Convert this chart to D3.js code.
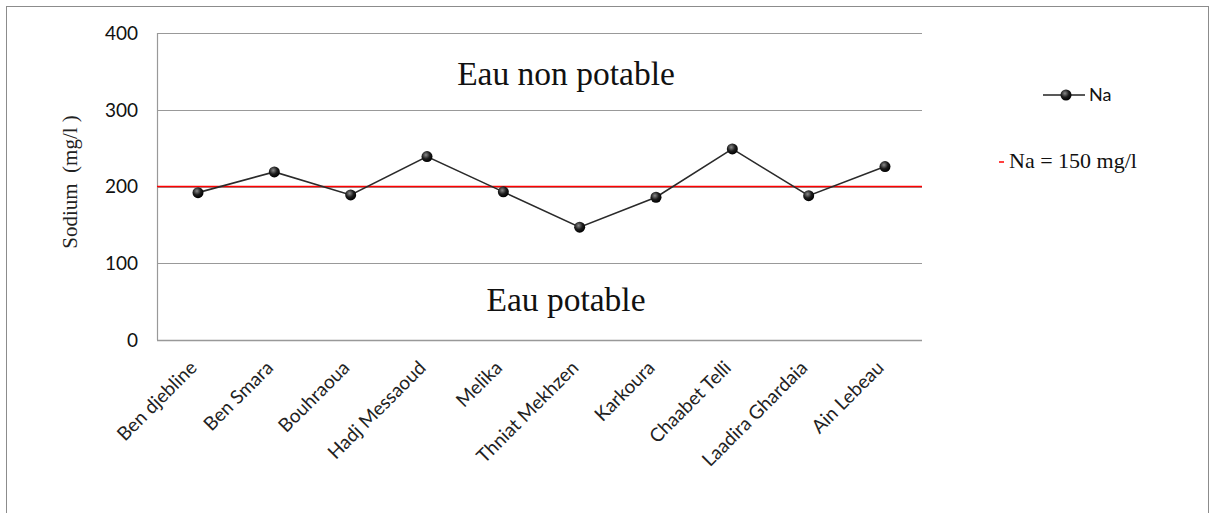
<!DOCTYPE html>
<html lang="fr">
  <head>
    <meta charset="UTF-8" />
    <title>Sodium</title>
    <script src="https://d3js.org/d3.v7.min.js"></script>
    <style>
      body { margin: 0; background: #fff; }
      .chart { width: 1211px; height: 513px; }
    </style>
  </head>
  <body>
    <div class="chart"></div>
  </body>

  <script>
    // data
    var sites = ["Ben djebline", "Ben Smara", "Bouhraoua", "Hadj Messaoud", "Melika",
      "Thniat Mekhzen", "Karkoura", "Chaabet Telli", "Laadira Ghardaia", "Ain Lebeau"];
    var sodium = [192, 219, 189, 239, 193, 147, 186, 249, 188, 226];
    var yTicks = [0, 100, 200, 300, 400];
    var limitValue = 200;

    var width = 1211, height = 513;
    var plot = { left: 157, right: 922, top: 33, bottom: 340 };

    var svg = d3.select(".chart").append("svg")
      .attr("width", width)
      .attr("height", height);

    // outer frame
    svg.append("rect")
      .attr("x", 6.5).attr("y", 6.5)
      .attr("width", 1202).attr("height", 520)
      .attr("fill", "none")
      .attr("stroke", "#8c8c8c");

    var x = d3.scalePoint().domain(sites).range([198, 885]);
    var y = d3.scaleLinear().domain([0, 400]).range([plot.bottom, plot.top]);

    // marker gradient
    var grad = svg.append("defs").append("radialGradient")
      .attr("id", "dot")
      .attr("cx", "40%").attr("cy", "35%").attr("r", "65%");
    grad.append("stop").attr("offset", "0%").attr("stop-color", "#8a8a8a");
    grad.append("stop").attr("offset", "55%").attr("stop-color", "#1c1c1c");
    grad.append("stop").attr("offset", "100%").attr("stop-color", "#000");

    // gridlines
    svg.append("g")
      .selectAll("line")
      .data(yTicks.filter(function (d) { return d > 0; }))
      .join("line")
      .attr("x1", plot.left).attr("x2", plot.right)
      .attr("y1", function (d) { return Math.round(y(d)) + 0.5; })
      .attr("y2", function (d) { return Math.round(y(d)) + 0.5; })
      .attr("stroke", "#999")
      .attr("stroke-width", 1.2);

    // axes lines
    svg.append("line")
      .attr("x1", plot.left + 0.5).attr("x2", plot.left + 0.5)
      .attr("y1", plot.top).attr("y2", plot.bottom)
      .attr("stroke", "#999").attr("stroke-width", 1.2);
    svg.append("line")
      .attr("x1", plot.left).attr("x2", plot.right)
      .attr("y1", plot.bottom + 0.5).attr("y2", plot.bottom + 0.5)
      .attr("stroke", "#999").attr("stroke-width", 1.5);

    // y tick labels
    svg.append("g")
      .selectAll("text")
      .data(yTicks)
      .join("text")
      .attr("x", 138)
      .attr("y", function (d) { return y(d); })
      .attr("dy", "0.36em")
      .attr("text-anchor", "end")
      .attr("font-family", "Lato, 'Open Sans', sans-serif")
      .attr("font-size", 19)
      .attr("fill", "#111")
      .text(function (d) { return d; });

    // x labels
    svg.append("g")
      .selectAll("text")
      .data(sites)
      .join("text")
      .attr("transform", function (d) {
        return "translate(" + x(d) + "," + 369 + ") rotate(-45)";
      })
      .attr("text-anchor", "end")
      .attr("font-family", "Lato, 'Open Sans', sans-serif")
      .attr("font-size", 19)
      .attr("fill", "#222")
      .text(function (d) { return d; });

    // y axis title
    svg.append("text")
      .attr("transform", "translate(77," + 182 + ") rotate(-90)")
      .attr("text-anchor", "middle")
      .attr("font-family", "'Liberation Serif', 'Times New Roman', serif")
      .attr("font-size", 21)
      .attr("fill", "#222")
      .attr("xml:space", "preserve")
      .text("Sodium  (mg/l )");

    // limit line
    svg.append("line")
      .attr("x1", plot.left).attr("x2", plot.right)
      .attr("y1", y(limitValue)).attr("y2", y(limitValue))
      .attr("stroke", "#ff0000")
      .attr("stroke-width", 1.5);

    // zone labels
    svg.append("text")
      .attr("x", 566).attr("y", 85)
      .attr("text-anchor", "middle")
      .attr("font-family", "'Liberation Serif', 'Times New Roman', serif")
      .attr("font-size", 33.5)
      .attr("fill", "#111")
      .text("Eau non potable");
    svg.append("text")
      .attr("x", 566).attr("y", 311)
      .attr("text-anchor", "middle")
      .attr("font-family", "'Liberation Serif', 'Times New Roman', serif")
      .attr("font-size", 33.5)
      .attr("fill", "#111")
      .text("Eau potable");

    // series line
    var line = d3.line()
      .x(function (d, i) { return x(sites[i]); })
      .y(function (d) { return y(d); });
    svg.append("path")
      .datum(sodium)
      .attr("fill", "none")
      .attr("stroke", "#2a2a2a")
      .attr("stroke-width", 1.6)
      .attr("d", line);

    svg.append("g")
      .selectAll("circle")
      .data(sodium)
      .join("circle")
      .attr("cx", function (d, i) { return x(sites[i]); })
      .attr("cy", function (d) { return y(d); })
      .attr("r", 5.5)
      .attr("fill", "url(#dot)");

    // legend
    var leg = svg.append("g");
    leg.append("line")
      .attr("x1", 1043).attr("x2", 1085)
      .attr("y1", 95).attr("y2", 95)
      .attr("stroke", "#222").attr("stroke-width", 1.6);
    leg.append("circle")
      .attr("cx", 1066).attr("cy", 95).attr("r", 5.5)
      .attr("fill", "url(#dot)");
    leg.append("text")
      .attr("x", 1089).attr("y", 95).attr("dy", "0.36em")
      .attr("font-family", "Lato, 'Open Sans', sans-serif")
      .attr("font-size", 18)
      .attr("fill", "#111")
      .text("Na");

    leg.append("line")
      .attr("x1", 999).attr("x2", 1004)
      .attr("y1", 162).attr("y2", 162)
      .attr("stroke", "#ff0000").attr("stroke-width", 1.5);
    leg.append("text")
      .attr("x", 1009).attr("y", 168)
      .attr("font-family", "'Liberation Serif', 'Times New Roman', serif")
      .attr("font-size", 22)
      .attr("fill", "#111")
      .text("Na = " + 150 + " mg/l");
  </script>
</html>
